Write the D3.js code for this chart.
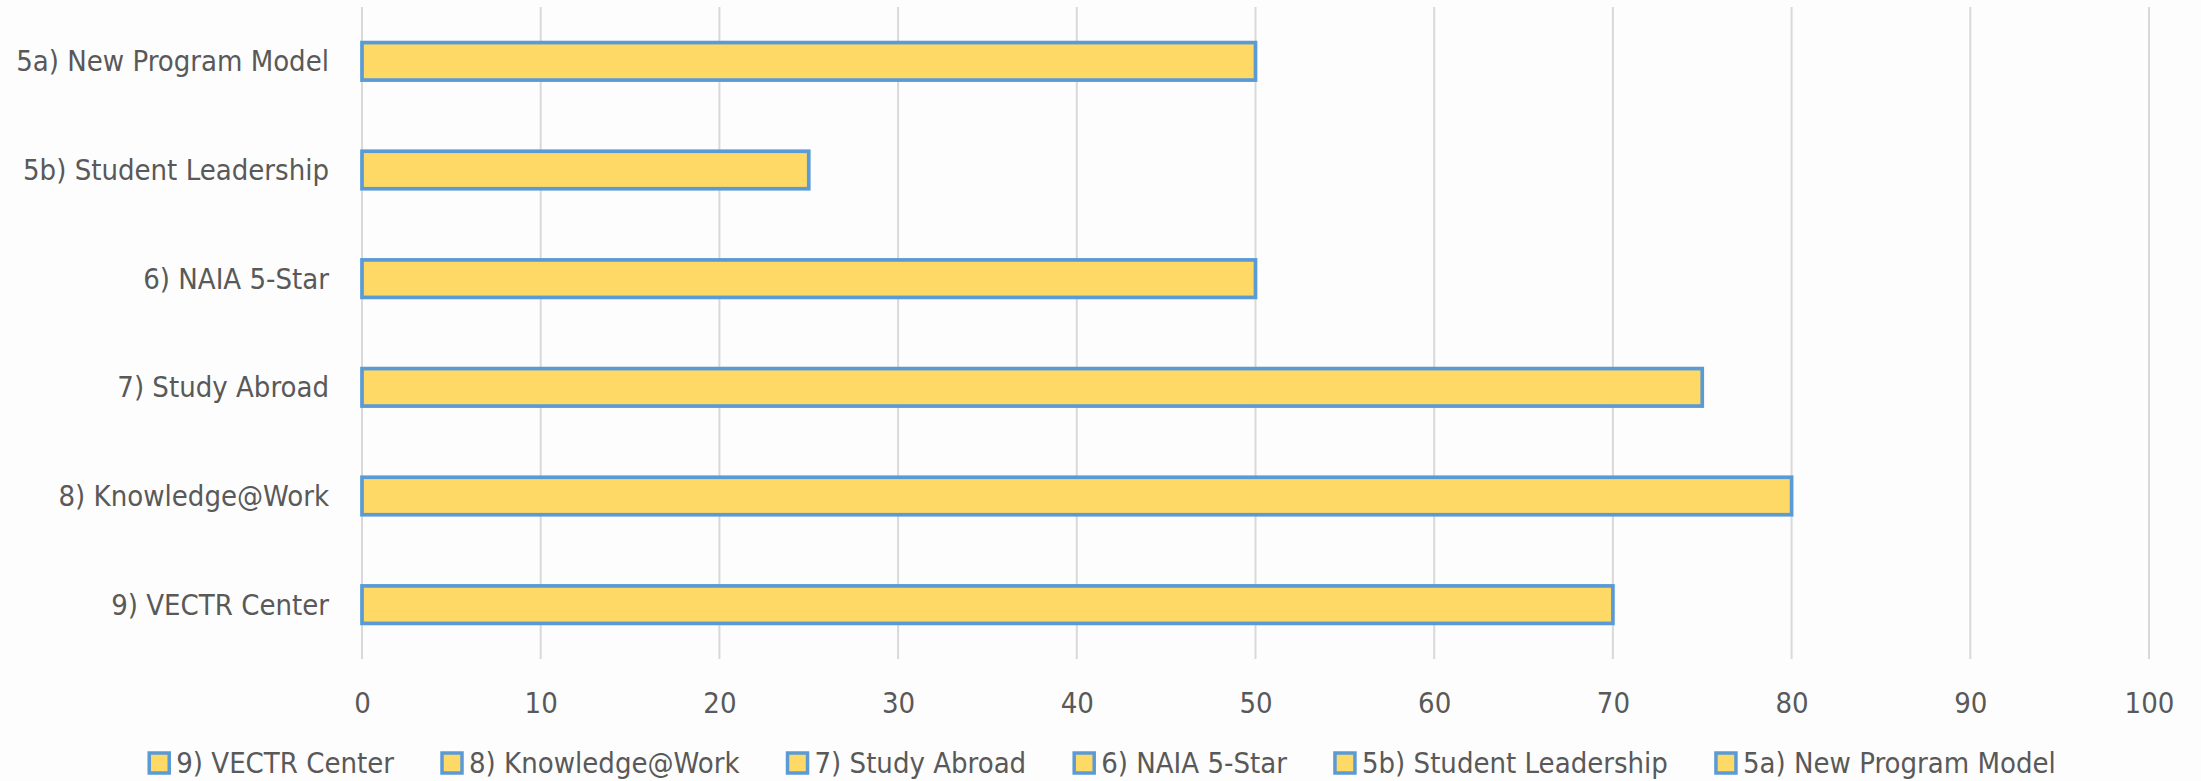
<!DOCTYPE html>
<html>
<head>
<meta charset="utf-8">
<script src="https://cdn.jsdelivr.net/npm/d3@7"></script>
<style>
  html, body { margin: 0; padding: 0; background: #fdfdfd; }
  svg { display: block; }
  text { font-family: "DejaVu Sans Condensed", "DejaVu Sans", sans-serif; font-stretch: condensed; fill: #595959; }
</style>
</head>
<body>
<svg id="chart" width="2201" height="781"></svg>
<script>
const categories = ["5a) New Program Model", "5b) Student Leadership", "6) NAIA 5-Star", "7) Study Abroad", "8) Knowledge@Work", "9) VECTR Center"];
const values = [50, 25, 50, 75, 80, 70];
const legendLabels = ["9) VECTR Center", "8) Knowledge@Work", "7) Study Abroad", "6) NAIA 5-Star", "5b) Student Leadership", "5a) New Program Model"];
const xTicks = [0, 10, 20, 30, 40, 50, 60, 70, 80, 90, 100];

const W = 2201, H = 781;
const plot = { left: 362, right: 2149, top: 7, bottom: 659 };
const fontSize = 29;
const fillColor = "#FFD966", strokeColor = "#5B9BD5", gridColor = "#D9D9D9";

const svg = d3.select("#chart");
svg.append("rect").attr("width", W).attr("height", H).attr("fill", "#fdfdfd");

const x = d3.scaleLinear().domain([0, 100]).range([plot.left, plot.right]);
const y = d3.scaleBand().domain(categories).range([plot.top, plot.bottom]).paddingInner(0.655).paddingOuter(0.3275);

// gridlines
svg.append("g").selectAll("line").data(xTicks).join("line")
  .attr("x1", d => x(d)).attr("x2", d => x(d))
  .attr("y1", plot.top).attr("y2", plot.bottom)
  .attr("stroke", gridColor).attr("stroke-width", 2);

// bars
svg.append("g").selectAll("rect").data(categories).join("rect")
  .attr("x", x(0))
  .attr("y", d => y(d))
  .attr("width", (d, i) => x(values[i]) - x(0))
  .attr("height", y.bandwidth())
  .attr("fill", fillColor)
  .attr("stroke", strokeColor)
  .attr("stroke-width", 3.7);

// x axis labels
const xAxis = d3.axisBottom(x).tickValues(xTicks).tickSize(0).tickPadding(0);
const gx = svg.append("g").attr("transform", `translate(0, 703)`).call(xAxis);
gx.select(".domain").remove();
gx.selectAll("text").attr("font-size", fontSize).attr("dy", "0.35em")
  .attr("font-family", null).attr("fill", "#595959");
gx.attr("font-family", null).attr("font-size", null);

// y axis labels
const yAxis = d3.axisLeft(y).tickSize(0).tickPadding(0);
const gy = svg.append("g").attr("transform", `translate(329, 0)`).call(yAxis);
gy.select(".domain").remove();
gy.selectAll("text").attr("font-size", fontSize).attr("dy", "0.35em")
  .attr("font-family", null).attr("fill", "#595959");
gy.attr("font-family", null).attr("font-size", null);

// legend
const legend = svg.append("g");
const sq = 20, sqGap = 7, itemGap = 48;
const items = legend.selectAll("g").data(legendLabels).join("g");
items.append("rect")
  .attr("width", sq).attr("height", sq)
  .attr("y", 763 - sq / 2)
  .attr("fill", fillColor).attr("stroke", strokeColor).attr("stroke-width", 3.5);
items.append("text")
  .attr("x", sq + sqGap).attr("y", 763).attr("dy", "0.35em")
  .attr("font-size", fontSize).text(d => d);
let widths = [];
items.each(function () { widths.push(sq + sqGap + this.querySelector("text").getComputedTextLength()); });
const total = d3.sum(widths) + itemGap * (widths.length - 1);
let cx = (W - total) / 2 + 2;
items.each(function (d, i) {
  d3.select(this).attr("transform", `translate(${cx},0)`);
  cx += widths[i] + itemGap;
});
</script>
</body>
</html>
